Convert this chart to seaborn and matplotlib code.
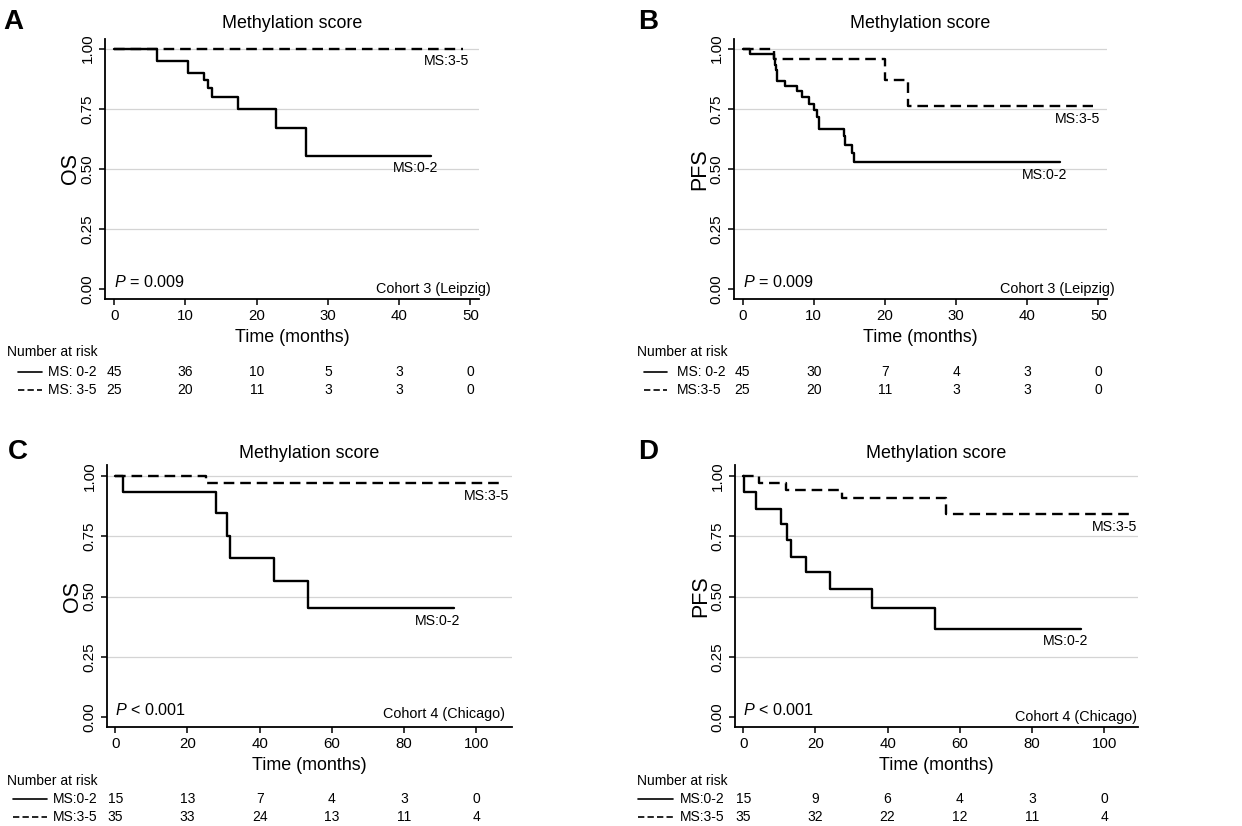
import numpy as np
import pandas as pd
import matplotlib
matplotlib.use("Agg")
import matplotlib.pyplot as plt
import matplotlib.transforms as mtransforms
from matplotlib.lines import Line2D
from matplotlib import font_manager
import seaborn as sns

# ---------------- data ----------------
a_low_t = [0, 6.0, 10.4, 12.6, 13.1, 13.7, 17.3, 22.7, 26.9, 44.5]
a_low_s = [1.0, 0.950, 0.900, 0.869, 0.835, 0.800, 0.750, 0.669, 0.556, 0.556]
a_high_t = [0, 48.9]
a_high_s = [1.0, 1.0]

b_low_t = [0, 1.0, 4.4, 4.5, 4.65, 4.8, 4.9, 6.0, 7.7, 8.4, 9.4, 10.1, 10.5, 10.8,
           14.2, 14.4, 15.4, 15.6, 44.6]
b_low_s = [1.0, 0.977, 0.955, 0.932, 0.910, 0.888, 0.866, 0.844, 0.822, 0.797, 0.772,
           0.744, 0.717, 0.668, 0.636, 0.600, 0.565, 0.527, 0.527]
b_high_t = [0, 4.4, 20.0, 23.3, 49.3]
b_high_s = [1.0, 0.956, 0.869, 0.761, 0.761]

c_low_t = [0, 2.0, 27.9, 31.0, 31.9, 44.0, 53.3, 93.7]
c_low_s = [1.0, 0.934, 0.848, 0.753, 0.662, 0.565, 0.452, 0.452]
c_high_t = [0, 25.1, 107.1]
c_high_s = [1.0, 0.970, 0.970]

d_low_t = [0, 0.3, 3.6, 10.5, 12.1, 13.3, 17.3, 24.1, 35.7, 53.0, 93.7]
d_low_s = [1.0, 0.935, 0.865, 0.800, 0.735, 0.666, 0.601, 0.532, 0.454, 0.366, 0.366]
d_high_t = [0, 4.4, 11.7, 27.4, 56.3, 107.2]
d_high_s = [1.0, 0.972, 0.942, 0.910, 0.841, 0.841]

risk_t_top = [0, 10, 20, 30, 40, 50]
risk_t_bot = [0, 20, 40, 60, 80, 100]
a_risk_low = [45, 36, 10, 5, 3, 0]
a_risk_high = [25, 20, 11, 3, 3, 0]
b_risk_low = [45, 30, 7, 4, 3, 0]
b_risk_high = [25, 20, 11, 3, 3, 0]
c_risk_low = [15, 13, 7, 4, 3, 0]
c_risk_high = [35, 33, 24, 13, 11, 4]
d_risk_low = [15, 9, 6, 4, 3, 0]
d_risk_high = [35, 32, 22, 12, 11, 4]

group_low = "MS:0-2"
group_high = "MS:3-5"
yticks = [0.0, 0.25, 0.5, 0.75, 1.0]

# ---------------- style ----------------
sns.set_style("ticks")
fams = {f.name for f in font_manager.fontManager.ttflist}
narrow = "Liberation Sans Narrow" in fams
hfam = "Liberation Sans Narrow" if narrow else "Liberation Sans"
k = 1.0 if narrow else 0.83
plt.rcParams["font.family"] = [hfam, "DejaVu Sans"]
plt.rcParams["mathtext.fontset"] = "custom"
plt.rcParams["mathtext.it"] = hfam + ":italic"
plt.rcParams["mathtext.rm"] = hfam
for key in ("text.color", "axes.labelcolor", "xtick.color", "ytick.color", "axes.edgecolor"):
    plt.rcParams[key] = "black"

W, H = 1242, 826
fig = plt.figure(figsize=(W / 100, H / 100), dpi=100)


def box(l, t, r, b):
    return [l / W, 1 - b / H, (r - l) / W, (b - t) / H]


panels = [
    dict(letter="A", box=(105, 39, 479, 299), xlim=(-1.3, 51.2), ylim=(-0.04, 1.04),
         low=(a_low_t, a_low_s), high=(a_high_t, a_high_s), ylab="OS",
         p="$P$ = 0.009", cohort="Cohort 3 (Leipzig)", cohort_x=1.031, cohort_y=0.0,
         rt=risk_t_top, rl=a_risk_low, rh=a_risk_high, xticks=risk_t_top,
         rows=(352, 372, 390), head_x=7, line_x=(18, 42), lab_x=48,
         lab_names=("MS: 0-2", "MS: 3-5"), letter_xy=(3, 9), title_y=23),
    dict(letter="B", box=(734, 39, 1107, 299), xlim=(-1.2, 51.2), ylim=(-0.04, 1.04),
         low=(b_low_t, b_low_s), high=(b_high_t, b_high_s), ylab="PFS",
         p="$P$ = 0.009", cohort="Cohort 3 (Leipzig)", cohort_x=1.022, cohort_y=0.0,
         rt=risk_t_top, rl=b_risk_low, rh=b_risk_high, xticks=risk_t_top,
         rows=(352, 372, 390), head_x=637, line_x=(644, 667), lab_x=677,
         lab_names=("MS: 0-2", "MS:3-5"), letter_xy=(638, 9), title_y=23),
    dict(letter="C", box=(107, 465, 512, 727), xlim=(-2.3, 109.9), ylim=(-0.041, 1.046),
         low=(c_low_t, c_low_s), high=(c_high_t, c_high_s), ylab="OS",
         p="$P$ < 0.001", cohort="Cohort 4 (Chicago)", cohort_x=0.983, cohort_y=0.014,
         rt=risk_t_bot, rl=c_risk_low, rh=c_risk_high, xticks=risk_t_bot,
         rows=(781, 799, 817), head_x=7, line_x=(13, 47), lab_x=53,
         lab_names=("MS:0-2", "MS:3-5"), letter_xy=(8, 439), title_y=453),
    dict(letter="D", box=(735, 465, 1138, 727), xlim=(-2.3, 109.4), ylim=(-0.041, 1.046),
         low=(d_low_t, d_low_s), high=(d_high_t, d_high_s), ylab="PFS",
         p="$P$ < 0.001", cohort="Cohort 4 (Chicago)", cohort_x=0.998, cohort_y=0.0,
         rt=risk_t_bot, rl=d_risk_low, rh=d_risk_high, xticks=risk_t_bot,
         rows=(781, 799, 817), head_x=637, line_x=(638, 673), lab_x=680,
         lab_names=("MS:0-2", "MS:3-5"), letter_xy=(638, 439), title_y=453),
]

dash = (4.5, 2.5)

for pn in panels:
    ax = fig.add_axes(box(*pn["box"]))
    l, t, r, b = pn["box"]
    wpx, hpx = r - l, b - t

    df = pd.concat([
        pd.DataFrame({"t": pn["low"][0], "s": pn["low"][1], "grp": group_low}),
        pd.DataFrame({"t": pn["high"][0], "s": pn["high"][1], "grp": group_high}),
    ])
    sns.lineplot(data=df, x="t", y="s", style="grp", dashes={group_low: "", group_high: dash},
                 color="black", linewidth=1.7, drawstyle="steps-post", estimator=None,
                 legend=False, ax=ax)

    ax.set_xlim(*pn["xlim"])
    ax.set_ylim(*pn["ylim"])
    ax.set_xticks(pn["xticks"])
    ax.set_yticks(yticks)
    ax.set_yticklabels([f"{v:.2f}" for v in yticks], rotation=90, va="center",
                       family=["Liberation Sans", "DejaVu Sans"], fontsize=11)
    ax.tick_params(axis="x", labelsize=13 * k, length=4.5, width=1.1, pad=3)
    ax.tick_params(axis="y", length=4.5, width=1.1, pad=3)
    for gv in yticks[1:]:
        ax.axhline(gv, color="#d4d4d4", lw=0.9, zorder=0)
    sns.despine(ax=ax)
    for sp in ("left", "bottom"):
        ax.spines[sp].set_linewidth(1.3)

    ax.set_xlabel("Time (months)", fontsize=15.5 * k)
    ax.xaxis.set_label_coords(0.5, -30 / hpx)
    ax.set_ylabel(pn["ylab"], fontsize=15.5, family=["Liberation Sans", "DejaVu Sans"])
    ax.yaxis.set_label_coords(-24 / wpx, 0.5)

    ax.text(0.5, 1 + (t - pn["title_y"]) / hpx, "Methylation score", transform=ax.transAxes,
            ha="center", va="center", fontsize=15.5 * k)

    # curve labels
    for (tt, ss), name in ((pn["high"], group_high), (pn["low"], group_low)):
        ax.annotate(name, xy=(tt[-1], ss[-1]), xytext=(5, -9),
                    textcoords="offset points", ha="right", va="center", fontsize=12.3 * k)

    ax.text(0, 0.03, pn["p"], ha="left", va="center", fontsize=14 * k)
    ax.text(pn["cohort_x"], pn["cohort_y"],
            pn["cohort"], transform=mtransforms.blended_transform_factory(ax.transAxes, ax.transData),
            ha="right", va="center", fontsize=12.5 * k, clip_on=False)

    # panel letter
    fig.text(pn["letter_xy"][0] / W, 1 - pn["letter_xy"][1] / H, pn["letter"],
             fontsize=20, fontweight="heavy", ha="left", va="top")

    # number at risk table
    hy, r1, r2 = pn["rows"]
    fig.text(pn["head_x"] / W, 1 - hy / H, "Number at risk", ha="left", va="center",
             fontsize=12 * k)
    tr = mtransforms.blended_transform_factory(ax.transData, fig.transFigure)
    for ry, vals, name, ls in ((r1, pn["rl"], pn["lab_names"][0], "-"),
                               (r2, pn["rh"], pn["lab_names"][1], (0, (3.8, 1.9)))):
        fig.add_artist(Line2D([pn["line_x"][0] / W, pn["line_x"][1] / W], [1 - ry / H, 1 - ry / H],
                              transform=fig.transFigure, color="black", lw=1.2, linestyle=ls))
        fig.text(pn["lab_x"] / W, 1 - ry / H, name, ha="left", va="center", fontsize=12 * k)
        for xv, nv in zip(pn["rt"], vals):
            ax.text(xv, 1 - ry / H, str(nv), transform=tr, ha="center", va="center",
                    fontsize=12 * k, clip_on=False)

fig.savefig("out.png", dpi=100)
